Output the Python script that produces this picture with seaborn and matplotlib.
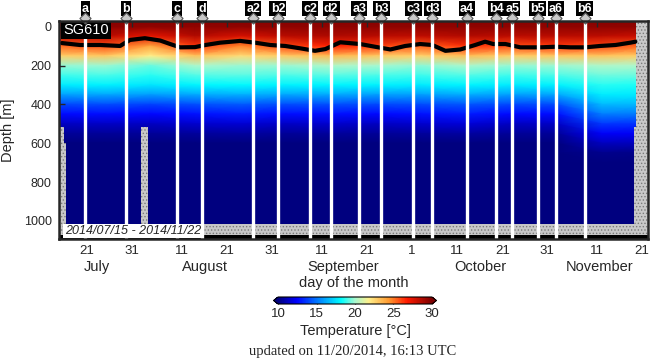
import matplotlib
matplotlib.use("Agg")
import matplotlib.pyplot as plt
from matplotlib.colors import LinearSegmentedColormap
import seaborn as sns
import pandas as pd

# x axis is days after 2014/07/15
tick_days = [6, 16, 27, 37, 47, 58, 68, 78, 88, 98, 108, 119, 129]
tick_labels = ["21", "31", "11", "21", "31", "11", "21", "1", "11", "21", "31", "11", "21"]
month_days = [8.2, 32.2, 62.7, 93.1, 119.5]
month_names = ["July", "August", "September", "October", "November"]

# marked profiles (white lines)
event_names = ["a", "b", "c", "d", "a2", "b2", "c2", "d2", "a3", "b3",
               "c3", "d3", "a4", "b4", "a5", "b5", "a6", "b6"]
event_days = [5.6, 14.6, 25.9, 31.5, 42.8, 48.3, 55.4, 60.1, 66.3, 71.2,
              78.3, 82.5, 90.2, 96.7, 100.2, 105.9, 109.9, 116.3]

# black isotherm line
mld_days = [0.4, 4.4, 8.9, 13.3, 15.5, 18.8, 22.2, 24.4, 26.6, 29.9,
            32.2, 35.5, 39.9, 43.2, 46.6, 49.9, 53.2, 56.5, 58.8, 62.1,
            66.5, 69.8, 73.2, 76.5, 79.8, 82.5, 85.4, 88.7, 92.0, 94.2,
            96.0, 98.7, 102.0, 106.4, 109.8, 113.1, 116.4, 119.7, 123.1, 126.4, 127.5]
mld_depth = [84, 94, 94, 99, 68, 59, 71, 89, 106, 105,
             94, 82, 73, 82, 94, 99, 111, 124, 115, 80,
             89, 103, 117, 99, 89, 94, 124, 117, 94, 77,
             89, 89, 106, 106, 103, 106, 106, 99, 94, 82, 77]

# temperature (degC) at 50 m depth nodes, one value per 10-day node
node_days = [0, 10, 20, 30, 40, 50, 60, 70, 80, 90, 100, 110, 120, 130]
node_depths = list(range(-50, 1051, 50))
t_m50 = [29.8] * 14
t_0 = [29.6] * 14
t_50 = [28.4, 28.5, 27.3, 28.6, 27.7, 28.5, 28.7, 28.5, 28.3, 28.6, 28.4, 28.5, 28.4, 28.0]
t_100 = [25.3, 25.8, 24.0, 26.3, 24.8, 26.0, 26.7, 26.1, 25.5, 26.4, 25.8, 26.2, 26.0, 25.2]
t_150 = [22.8, 23.0, 21.8, 23.2, 22.4, 22.9, 23.4, 23.0, 22.7, 23.3, 22.8, 23.0, 23.1, 22.8]
t_200 = [19.8, 19.9, 19.3, 20.1, 19.9, 19.9, 20.2, 20.0, 19.7, 20.1, 19.8, 19.9, 20.2, 20.1]
t_250 = [18.9, 19.0, 18.6, 19.1, 19.2, 19.0, 19.2, 19.0, 18.9, 19.1, 18.9, 19.0, 19.4, 19.3]
t_300 = [17.8, 17.9, 17.6, 18.0, 18.1, 17.9, 18.0, 17.9, 17.8, 18.0, 17.8, 17.9, 18.6, 18.5]
t_350 = [16.0, 16.1, 15.9, 16.2, 16.4, 16.1, 16.2, 16.0, 16.0, 16.3, 16.0, 16.1, 17.8, 17.7]
t_400 = [14.0, 14.1, 13.9, 14.2, 14.4, 14.1, 14.2, 14.0, 14.1, 14.3, 14.0, 14.1, 16.6, 16.5]
t_450 = [12.6, 12.7, 12.5, 12.8, 13.0, 12.7, 12.8, 12.6, 12.8, 13.0, 12.6, 12.7, 15.2, 15.1]
t_500 = [11.3, 11.4, 11.3, 11.5, 11.6, 11.4, 11.5, 11.3, 11.5, 11.7, 11.3, 11.4, 13.6, 13.5]
t_550 = [10.5, 10.5, 10.5, 10.6, 10.7, 10.5, 10.6, 10.5, 10.6, 10.7, 10.5, 10.5, 12.3, 12.2]
t_600 = [10.0, 10.0, 10.0, 10.0, 10.0, 10.0, 10.0, 10.0, 10.0, 10.0, 10.0, 10.0, 11.2, 11.1]
t_650 = [9.8, 9.8, 9.8, 9.8, 9.8, 9.8, 9.8, 9.8, 9.8, 9.8, 9.8, 9.8, 10.3, 10.2]
t_deep = [9.6] * 14

# no-data areas (day start, day end, top depth, bottom depth)
gap_day0 = [-0.3, 0.9, 18.0, 127.2, 127.7, -0.3]
gap_day1 = [0.9, 1.3, 19.5, 127.7, 130.3, 130.3]
gap_top = [515, 600, 515, 515, -28, 1015]
gap_bottom = [1070, 1070, 1070, 1070, 1070, 1070]

DAY_LIM = (-0.3, 130.3)
DEPTH_LIM = (1093, -28)

# colour scale (jet-like with a pale middle)
cmap_pos = [0.0, 0.12, 0.28, 0.41, 0.5, 0.59, 0.72, 0.84, 1.0]
cmap_col = ["#00007f", "#0000ff", "#0090ff", "#00ffff", "#a8f8d0",
            "#fff08c", "#ff9a30", "#ff1a00", "#7f0000"]
temp_cmap = LinearSegmentedColormap.from_list("sg", list(zip(cmap_pos, cmap_col)))

sns.set_style("ticks")
plt.rcParams["font.family"] = ["Liberation Sans", "DejaVu Sans"]
plt.rcParams["hatch.color"] = "#7a7a7a"
plt.rcParams["hatch.linewidth"] = 0.6

rows = [t_m50, t_0, t_50, t_100, t_150, t_200, t_250, t_300, t_350,
        t_400, t_450, t_500, t_550, t_600, t_650] + [t_deep] * 8
temp = pd.DataFrame(rows, index=node_depths, columns=node_days)

fig = plt.figure(figsize=(6.5, 3.62), dpi=100)
rect = [58.7 / 650, 1 - 239 / 362, (648 - 58.7) / 650, (239 - 21.3) / 362]

ax_map = fig.add_axes(rect)
cax = fig.add_axes([273.5 / 650, 1 - 304 / 362, 163 / 650, 7 / 362])
sns.heatmap(temp, ax=ax_map, cmap=temp_cmap, vmin=10, vmax=30, shading="gouraud",
            cbar_ax=cax,
            cbar_kws={"orientation": "horizontal", "extend": "both",
                      "ticks": [10, 15, 20, 25, 30], "extendfrac": 0.03})
# heatmap cells sit at integer positions -> map the day/depth limits onto them
day_step = node_days[1] - node_days[0]
dep_step = node_depths[1] - node_depths[0]
ax_map.set_xlim([(d - node_days[0]) / day_step for d in DAY_LIM])
ax_map.set_ylim([(d - node_depths[0]) / dep_step for d in DEPTH_LIM])
ax_map.axis("off")

# overlay axes in real units
ax = fig.add_axes(rect, facecolor="none")
ax.set_xlim(DAY_LIM)
ax.set_ylim(DEPTH_LIM)

for d0, d1, top, bot in zip(gap_day0, gap_day1, gap_top, gap_bottom):
    ax.fill_between([d0, d1], top, bot, facecolor="#c8c8c8", edgecolor="#7a7a7a",
                    hatch=".....", linewidth=0, zorder=2)
ax.fill_between(list(DAY_LIM), 1070, DEPTH_LIM[0], color="black", linewidth=0, zorder=2)

sns.lineplot(x=mld_days, y=mld_depth, ax=ax, color="black", linewidth=3,
             estimator=None, sort=False, zorder=3)

for d in event_days:
    ax.axvline(d, color="white", linewidth=2.4, zorder=4)

top_tr = ax.get_xaxis_transform()
ax.scatter(event_days, [1.014] * len(event_days), transform=top_tr, marker="D", s=32,
           facecolor="#c8c8c8", edgecolor="#555555", linewidth=0.8, clip_on=False, zorder=8)
for name, d in zip(event_names, event_days):
    ax.text(d, 1.058, name, transform=top_tr, ha="center", va="center", color="white",
            fontsize=9, fontweight="bold", clip_on=False,
            bbox=dict(facecolor="black", edgecolor="none", pad=0.9))

ax.text(0.0075, 0.962, "SG610", transform=ax.transAxes, ha="left", va="center",
        color="white", fontsize=10.5, zorder=7,
        bbox=dict(facecolor="black", edgecolor="none", pad=1.5))
ax.text(0.01, 0.037, "2014/07/15 - 2014/11/22", transform=ax.transAxes, ha="left",
        va="center", fontsize=9, style="italic", zorder=7,
        bbox=dict(facecolor="white", edgecolor="none", pad=1.0))

ax.set_xticks(tick_days)
ax.set_xticklabels(tick_labels)
ax.set_yticks([0, 200, 400, 600, 800, 1000])
ax.tick_params(direction="in", top=True, right=True, length=4, width=1)
ax.tick_params(axis="x", labelsize=9.5, pad=4)
ax.tick_params(axis="y", labelsize=9, pad=5)
for s in ax.spines.values():
    s.set_linewidth(1.8)
    s.set_zorder(10)

for d, m in zip(month_days, month_names):
    ax.text(d, -0.095, m, transform=top_tr, ha="center", va="top", fontsize=10.5)
ax.set_xlabel("day of the month", fontsize=10.5)
ax.xaxis.set_label_coords(0.5, -0.172)
ax.set_ylabel("Depth [m]", fontsize=10.5)
ax.yaxis.set_label_coords(-0.074, 0.5)

cbar = ax_map.collections[0].colorbar
cbar.outline.set_linewidth(0.8)
cbar.outline.set_edgecolor("black")
cax.tick_params(direction="in", length=3, width=0.8, labelsize=9.5, pad=3)
cbar.set_label("Temperature [°C]", fontsize=10.5, labelpad=3)

fig.text(352.5 / 650, 1 - 351.5 / 362, "updated on 11/20/2014, 16:13 UTC",
         ha="center", va="center", fontsize=10.5, family="Liberation Serif")

fig.savefig("out.png", dpi=100)
